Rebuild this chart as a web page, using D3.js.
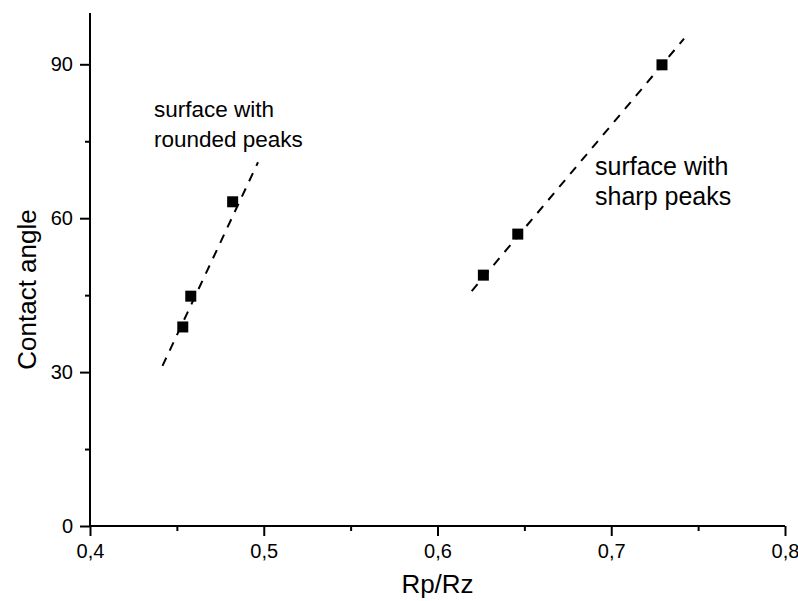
<!DOCTYPE html>
<html>
<head>
<meta charset="utf-8">
<script src="https://cdn.jsdelivr.net/npm/d3@7"></script>
<style>
  html, body { margin: 0; padding: 0; background: #fff; }
  #chart { width: 798px; height: 601px; }
  text { font-family: Arial, "Liberation Sans", sans-serif; fill: #000; }
</style>
</head>
<body>
<div id="chart"></div>
<script>
// measured points, Rp/Rz vs contact angle
const roundedX = [0.4534, 0.458, 0.4821];
const roundedY = [38.8, 44.8, 63.2];
const sharpX = [0.6264, 0.6462, 0.7292];
const sharpY = [48.9, 56.9, 89.9];
// dashed trend lines, end points
const roundedFitX = [0.4417, 0.4967];
const roundedFitY = [31.2, 70.9];
const sharpFitX = [0.6197, 0.7419];
const sharpFitY = [45.8, 95.0];
// ticks
const xMajor = [0.4, 0.5, 0.6, 0.7, 0.8];
const xMinor = [0.45, 0.55, 0.65, 0.75];
const yMajor = [0, 30, 60, 90];
const yMinor = [15, 45, 75];
const labelRounded = ['surface with', 'rounded peaks'];
const labelSharp = ['surface with', 'sharp peaks'];

class ScatterChart {
  constructor(id) {
    this.id = id;
    this.width = 798;
    this.height = 601;
    // plot area in page pixels
    this.margin = { top: 13, right: 13, bottom: 75, left: 90 };
    this.locale = d3.formatLocale({ decimal: ',', thousands: '.', grouping: [3], currency: ['', ''] });
    this.init();
  }
  init() {
    this.svg = d3.select(`#${this.id}`).append('svg')
      .attr('width', this.width)
      .attr('height', this.height)
      .attr('viewBox', `0 0 ${this.width} ${this.height}`);
    this.x = d3.scaleLinear().domain([0.4, 0.8]).range([this.margin.left, this.width - this.margin.right]);
    this.y = d3.scaleLinear().domain([0, 100]).range([this.height - this.margin.bottom, this.margin.top]);
    return this;
  }
  render() {
    this.renderAxes();
    this.renderLines();
    this.renderPoints();
    this.renderLabels();
    return this;
  }
  renderAxes() {
    const x = this.x, y = this.y;
    const fmt = this.locale.format('.1f');

    // x axis
    const gx = this.svg.append('g').attr('transform', `translate(0,${y(0)})`);
    gx.call(d3.axisBottom(x).tickValues(xMajor).tickSize(10).tickPadding(8).tickFormat(fmt));
    gx.append('g').call(d3.axisBottom(x).tickValues(xMinor).tickSize(5).tickFormat(''))
      .select('.domain').remove();

    // y axis
    const gy = this.svg.append('g').attr('transform', `translate(${x(0.4)},0)`);
    gy.call(d3.axisLeft(y).tickValues(yMajor).tickSize(10).tickPadding(7).tickFormat(d3.format('d')));
    gy.append('g').call(d3.axisLeft(y).tickValues(yMinor).tickSize(5).tickFormat(''))
      .select('.domain').remove();

    // plain axis lines, no end caps
    gx.select('.domain').attr('d', `M${x(0.4)},0H${x(0.8)}`);
    gy.select('.domain').attr('d', `M0,${y(0)}V${y(100)}`);
    this.svg.selectAll('.domain').attr('stroke-width', 2);
    this.svg.selectAll('.tick line').attr('stroke-width', 2);
    this.svg.selectAll('.tick text').style('font-size', '20px').attr('fill', '#000');

    // titles
    this.svg.append('text')
      .attr('x', (x(0.4) + x(0.8)) / 2)
      .attr('y', 593)
      .attr('text-anchor', 'middle')
      .style('font-size', '26px')
      .text('Rp/Rz');
    this.svg.append('text')
      .attr('transform', `translate(36,${(y(0) + y(100)) / 2 + 20}) rotate(-90)`)
      .attr('text-anchor', 'middle')
      .style('font-size', '26px')
      .text('Contact angle');
  }
  renderLines() {
    const line = d3.line().x(d => this.x(d[0])).y(d => this.y(d[1]));
    const fits = [d3.zip(roundedFitX, roundedFitY), d3.zip(sharpFitX, sharpFitY)];
    this.svg.append('g').selectAll('path')
      .data(fits)
      .join('path')
      .attr('d', line)
      .attr('fill', 'none')
      .attr('stroke', '#000')
      .attr('stroke-width', 2)
      .attr('stroke-dasharray', '9,8');
  }
  renderPoints() {
    const pts = d3.zip(roundedX, roundedY).concat(d3.zip(sharpX, sharpY));
    const s = 11;
    this.svg.append('g').selectAll('rect')
      .data(pts)
      .join('rect')
      .attr('x', d => this.x(d[0]) - s / 2)
      .attr('y', d => this.y(d[1]) - s / 2)
      .attr('width', s)
      .attr('height', s)
      .attr('fill', '#000');
  }
  renderLabels() {
    const addLabel = (lines, px, py, size, gap) => {
      const t = this.svg.append('text').attr('x', px).attr('y', py).style('font-size', size + 'px');
      lines.forEach((s, i) => t.append('tspan').attr('x', px).attr('dy', i ? gap : 0).text(s));
    };
    addLabel(labelRounded, 154, 117, 22.5, 30);
    addLabel(labelSharp, 595, 175, 25, 30);
  }
}

new ScatterChart('chart').render();
</script>
</body>
</html>
